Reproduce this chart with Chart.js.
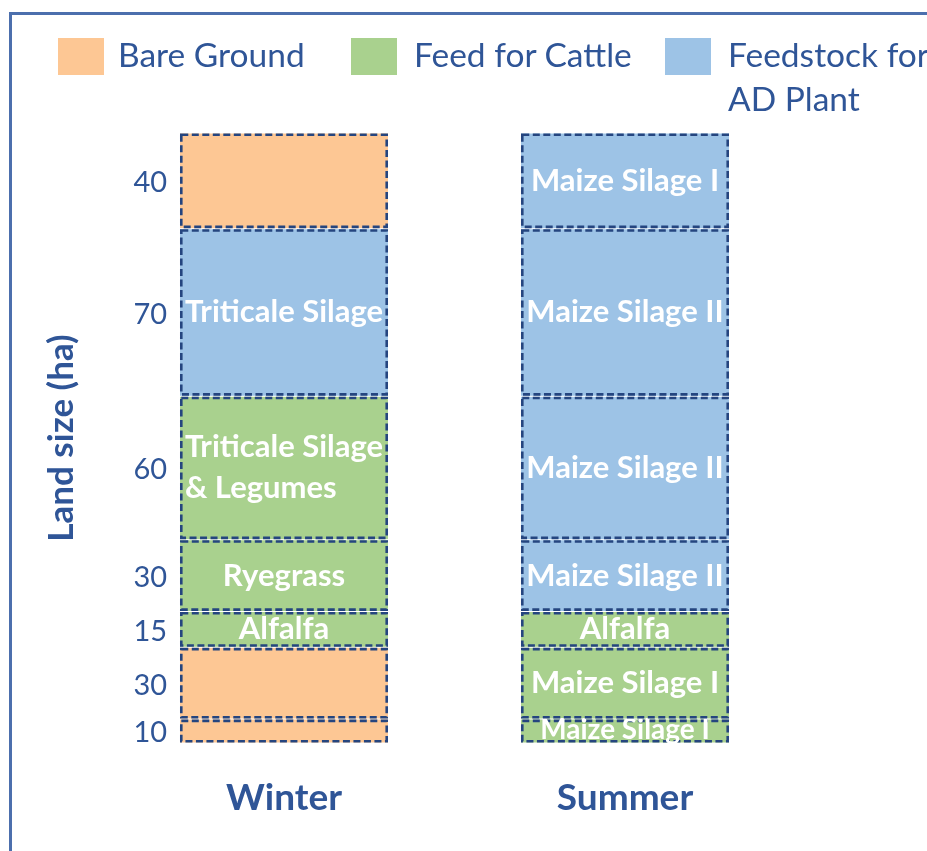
<!DOCTYPE html>
<html><head><meta charset="utf-8">
<script src="https://cdn.jsdelivr.net/npm/chart.js@4.4.0/dist/chart.umd.min.js"></script>
<style>
html,body{margin:0;padding:0;background:#fff;width:927px;height:851px;overflow:hidden;}
#frame{position:absolute;left:9px;top:12px;width:2000px;height:2000px;border-left:3px solid #4C6FAD;border-top:3px solid #4C6FAD;}
#wrap{position:absolute;left:0;top:0;width:927px;height:851px;}
.lg{position:absolute;font-family:Lato,sans-serif;font-size:33.5px;color:#2F5597;white-space:nowrap;line-height:44px;}
.sw{position:absolute;}
</style></head><body>
<div id="frame"></div>
<div id="wrap"><canvas id="c" width="927" height="851"></canvas></div>
<div id="legend"></div>
<script>
// ---- data ----
const categories = ['Winter', 'Summer'];
const layerSizes = [10, 30, 15, 30, 60, 70, 40];          // ha, bottom to top
const tickLabels = ['10', '30', '15', '30', '60', '70', '40'];
const winterUse = ['bare', 'bare', 'feed', 'feed', 'feed', 'ad', 'bare'];
const summerUse = ['feed', 'feed', 'feed', 'ad', 'ad', 'ad', 'ad'];
const winterCrops = ['', '', 'Alfalfa', 'Ryegrass', 'Triticale Silage\n& Legumes', 'Triticale Silage', ''];
const summerCrops = ['Maize Silage I', 'Maize Silage I', 'Alfalfa', 'Maize Silage II', 'Maize Silage II', 'Maize Silage II', 'Maize Silage I'];
const useKeys = ['bare', 'feed', 'ad'];
const useNames = ['Bare Ground', 'Feed for Cattle', 'Feedstock for\nAD Plant'];
const useColors = {bare: '#FDC794', feed: '#A9D18E', ad: '#9DC3E6'};

// ---- legend (HTML) ----
const swX = [58, 351, 665], txX = [118, 414, 728];
const lg = document.getElementById('legend');
useKeys.forEach((k, i) => {
  const s = document.createElement('div');
  s.className = 'sw';
  s.style.cssText = `left:${swX[i]}px;top:38px;width:46px;height:37px;background:${useColors[k]};`;
  lg.appendChild(s);
  const t = document.createElement('div');
  t.className = 'lg';
  t.style.left = txX[i] + 'px';
  t.style.top = '32px';
  t.innerHTML = useNames[i].split('\n').join('<br>');
  lg.appendChild(t);
});

// ---- chart ----
const ticksAt = [];
let acc = 0;
layerSizes.forEach(v => { ticksAt.push(acc + v / 2); acc += v; });
const total = acc;

const datasets = layerSizes.map((v, i) => ({
  label: 'Layer ' + (i + 1),
  data: categories.map(() => v),
  backgroundColor: [useColors[winterUse[i]], useColors[summerUse[i]]],
  borderColor: '#ffffff',
  borderWidth: {top: 0.5, bottom: 0.5, left: 0, right: 0},
  borderSkipped: false,
  crops: [winterCrops[i], summerCrops[i]],
  categoryPercentage: 0.61,
  barPercentage: 1
}));

const segPlugin = {
  id: 'segments',
  afterDatasetsDraw(chart) {
    const ctx = chart.ctx;
    chart.data.datasets.forEach((ds, di) => {
      const meta = chart.getDatasetMeta(di);
      meta.data.forEach((el, j) => {
        const p = el.getProps(['x', 'y', 'base', 'width'], true);
        const l = p.x - p.width / 2, r = p.x + p.width / 2;
        const t = Math.min(p.y, p.base), b = Math.max(p.y, p.base);
        ctx.save();
        ctx.strokeStyle = '#25457F';
        ctx.lineWidth = 2.6;
        ctx.setLineDash([7, 3.5]);
        ctx.strokeRect(l + 1.3, t + 1.8, r - l - 2.6, b - t - 3.6);
        ctx.restore();

        const txt = ds.crops[j];
        if (!txt) return;
        const lines = txt.split('\n');
        const h = b - t;
        const fs = Math.min(31, h + 4);
        ctx.save();
        ctx.font = `bold ${fs}px Lato`;
        ctx.fillStyle = '#ffffff';
        ctx.textBaseline = 'middle';
        const lh = 41;
        const cy = (t + b) / 2 - (h < 30 ? 1 : 0);
        if (lines.length > 1) {
          const bw = Math.max(...lines.map(s => ctx.measureText(s).width));
          ctx.textAlign = 'left';
          lines.forEach((s, k) => ctx.fillText(s, p.x - bw / 2, cy + (k - (lines.length - 1) / 2) * lh));
        } else {
          ctx.textAlign = 'center';
          ctx.fillText(txt, p.x, cy);
        }
        ctx.restore();
      });
    });
  }
};

new Chart(document.getElementById('c'), {
  type: 'bar',
  data: {labels: categories, datasets},
  options: {
    responsive: false,
    animation: false,
    devicePixelRatio: 1,
    layout: {padding: {left: 40, right: 131.5, top: 133, bottom: 0}},
    plugins: {legend: {display: false}, tooltip: {enabled: false}},
    scales: {
      x: {
        stacked: true,
        offset: true,
        grid: {display: false},
        border: {display: false},
        afterFit: s => { s.height = 108; },
        ticks: {padding: 25, color: '#2F5597', maxRotation: 0, font: {family: 'Lato', size: 37, weight: 'bold'}}
      },
      y: {
        stacked: true,
        min: 0,
        max: total,
        afterBuildTicks: s => { s.ticks = ticksAt.map(v => ({value: v})); },
        afterFit: s => { s.width = 73.5; },
        grid: {display: false},
        border: {display: false},
        ticks: {mirror: true, crossAlign: 'far', padding: 20, autoSkip: false, labelOffset: 2,
                color: '#2F5597', font: {family: 'Lato', size: 29},
                callback: (v, i) => tickLabels[i]},
        title: {display: true, text: 'Land size (ha)', color: '#2F5597', padding: {top: 1, bottom: 0},
                font: {family: 'Lato', size: 35, weight: 'bold'}}
      }
    }
  },
  plugins: [segPlugin]
});
</script>
</body></html>
